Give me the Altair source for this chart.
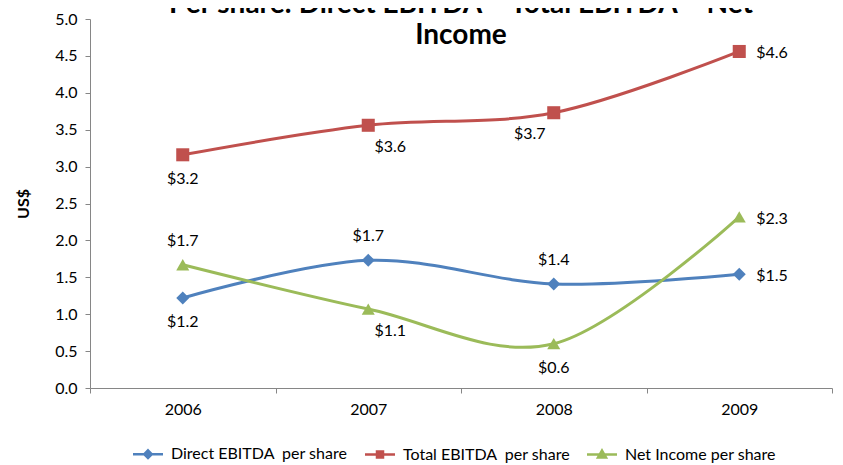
import altair as alt
import pandas as pd

YEARS = ["2006", "2007", "2008", "2009"]
SERIES = ["Direct EBITDA\u00a0 per share", "Total EBITDA\u00a0 per share", "Net Income per share"]
DIRECT = [1.22, 1.73, 1.41, 1.54]
TOTAL = [3.16, 3.56, 3.73, 4.56]
NET = [1.67, 1.07, 0.60, 2.32]
COLORS = ["#4F81BD", "#C0504D", "#9BBB59"]
MARKERS = ["diamond", "square", "triangle-up"]
Y_TICKS = [0.0, 0.5, 1.0, 1.5, 2.0, 2.5, 3.0, 3.5, 4.0, 4.5, 5.0]
TITLE_LINES = ["Per share: Direct EBITDA \u2013 Total EBITDA \u2013 Net", "Income"]
Y_TITLE = "US$"

# label placement keyword per series (one per year)
LABEL_POS = [
    ["below", "above", "above", "right"],
    ["below", "belowright", "belowleft", "right"],
    ["above", "belowright", "below", "right"],
]
POS_STYLE = {
    "below": dict(dx=0, dy=24, align="center"),
    "above": dict(dx=0, dy=-24, align="center"),
    "right": dict(dx=17, dy=2, align="left"),
    "belowright": dict(dx=22, dy=22, align="center"),
    "belowleft": dict(dx=-24, dy=21, align="center"),
}

# legend symbols: a line with the marker in its middle
LEGEND_PATHS = [
    "M-3,0L3,0M0,-0.75L0.75,0L0,0.75L-0.75,0Z",
    "M-3,0L3,0M-0.6,-0.6L0.6,-0.6L0.6,0.6L-0.6,0.6Z",
    "M-3,0L3,0M0,-0.8L0.8,0.6L-0.8,0.6Z",
]

rows = []
for s, vals, poss in zip(SERIES, [DIRECT, TOTAL, NET], LABEL_POS):
    for yr, v, p in zip(YEARS, vals, poss):
        rows.append({"series": s, "year": yr, "value": v, "pos": p})
df = pd.DataFrame(rows)
title_df = pd.DataFrame({"t": ["|".join(TITLE_LINES)]})

FONT = "Lato"
W, H = 742, 369

x_enc = alt.X(
    "year:O",
    scale=alt.Scale(type="band", paddingInner=0, paddingOuter=0, domain=YEARS),
    bandPosition=0.5,
    axis=alt.Axis(
        title=None, labelAngle=0, tickBand="extent", tickSize=5,
        labelPadding=8, labelFontSize=16,
    ),
)
y_enc = alt.Y(
    "value:Q",
    scale=alt.Scale(domain=[0, 5], nice=False, zero=True),
    axis=alt.Axis(
        values=Y_TICKS, format=".1f", tickSize=5, labelPadding=8,
        labelFontSize=16, title=Y_TITLE, titleFontSize=16,
        titleFontWeight="bold", titleX=-59,
    ),
)
color_scale = alt.Scale(domain=SERIES, range=COLORS)

base = alt.Chart(df)

lines = base.mark_line(interpolate="cardinal", strokeWidth=3).encode(
    x=x_enc, y=y_enc,
    color=alt.Color("series:N", scale=color_scale, legend=None),
)
points = base.mark_point(filled=True, opacity=1, size=170).encode(
    x=x_enc, y=y_enc,
    color=alt.Color("series:N", scale=color_scale, legend=None),
    shape=alt.Shape("series:N", scale=alt.Scale(domain=SERIES, range=MARKERS), legend=None),
)

label_layers = []
for pos, st in POS_STYLE.items():
    label_layers.append(
        base.transform_filter(alt.datum.pos == pos)
        .transform_calculate(label="'$' + format(datum.value, '.1f')")
        .mark_text(font=FONT, fontSize=16, color="#000000", baseline="middle", **st)
        .encode(x=x_enc, y=y_enc, text="label:N")
    )

leg = alt.Legend(
    title=None, orient="none", legendX=50, legendY=427, direction="horizontal",
    columns=3, symbolSize=100, symbolStrokeWidth=2.5, labelFont=FONT,
    labelFontSize=16, labelColor="#000000", labelOffset=15, columnPadding=12,
    padding=0, labelLimit=400,
)
legend_layer = base.transform_filter("false").mark_point(filled=True, opacity=1).encode(
    x=x_enc, y=y_enc,
    fill=alt.Fill("series:N", scale=color_scale, legend=leg),
    stroke=alt.Stroke("series:N", scale=color_scale, legend=leg),
    shape=alt.Shape("series:N", scale=alt.Scale(domain=SERIES, range=LEGEND_PATHS), legend=leg),
)

title_layer = alt.Chart(title_df).mark_text(
    font=FONT, fontSize=28, fontWeight="bold", color="#000000",
    lineBreak="|", lineHeight=31, baseline="top", align="center",
).encode(text="t:N", x=alt.value(W / 2), y=alt.value(-28))

chart = alt.layer(lines, points, *label_layers, legend_layer, title_layer).resolve_scale(
    color="independent", shape="independent", fill="independent", stroke="independent"
).properties(
    width=W, height=H,
    autosize=alt.AutoSizeParams(type="none"),
    padding={"left": 82, "top": 11, "right": 3, "bottom": 80},
).configure_axis(
    labelFont=FONT, titleFont=FONT, labelColor="#000000", titleColor="#000000",
    domainColor="#868686", tickColor="#868686", grid=False,
).configure_view(stroke=None)

chart.save("out.html", embed_options={"renderer": "svg", "actions": False})
